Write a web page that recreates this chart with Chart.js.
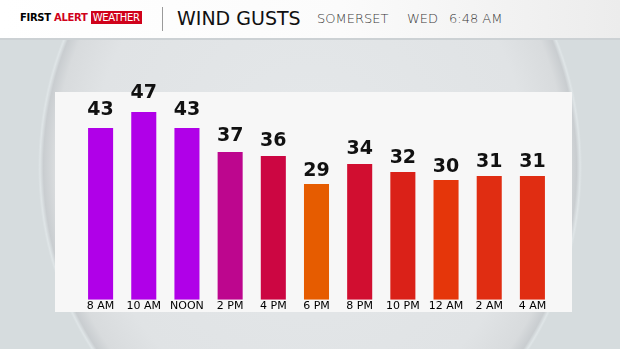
<!DOCTYPE html>
<html>
<head>
<meta charset="utf-8">
<script src="https://cdn.jsdelivr.net/npm/chart.js@4.4.1/dist/chart.umd.min.js"></script>
<style>
  html, body { margin: 0; padding: 0; }
  body {
    width: 620px; height: 349px; position: relative; overflow: hidden;
    background:
      radial-gradient(ellipse 272px 309px at 310px 167px,
        #e5e8ea 0%, #e0e3e5 80%, #d8dbdd 94%, #c9cdd0 98%, #dfe5e7 99.3%, #d6dcde 100%),
      #d6dcde;
    font-family: "DejaVu Sans", sans-serif;
  }
  #header {
    position: absolute; left: 0; top: 0; width: 620px; height: 38px;
    background: linear-gradient(to right, #ffffff 0%, #fbfbfb 55%, #ececec 100%);
    border-bottom: 2px solid #ccd1d4;
  }
  #header > span { position: absolute; white-space: nowrap; }
  .brand { left: 20px; top: 12px; font-size: 10px; font-weight: bold; letter-spacing: -0.3px; }
  .brand .red { color: #d0021b; }
  .brand .box { background: #d0021b; color: #fff; padding: 1px 2px; font-weight: normal; }
  .sep { left: 162px; top: 7px; width: 1px; height: 24px; background: #9a9a9a; }
  .title { left: 177px; top: 7px; font-size: 19px; color: #111; }
  .place { left: 317px; top: 11px; font-size: 13px; color: #3a3a3a; font-weight: 300; }
  .day { left: 407px; top: 11px; font-size: 13px; color: #3a3a3a; font-weight: 300; }
  .time { left: 449px; top: 11px; font-size: 13px; color: #3a3a3a; font-weight: 300; }
  #panel {
    position: absolute; left: 55px; top: 92px; width: 517px; height: 220px;
    background: #f7f7f7;
  }
  #chart { position: absolute; left: 0; top: 0; }
</style>
</head>
<body>
<div id="header">
  <span class="brand">FIRST <span class="red">ALERT</span> <span class="box">WEATHER</span></span>
  <span class="sep"></span>
  <span class="title">WIND GUSTS</span>
  <span class="place">SOMERSET</span>
  <span class="day">WED</span>
  <span class="time">6:48 AM</span>
</div>
<div id="panel"></div>
<canvas id="chart" width="620" height="349"></canvas>
<script>
// hours along the bottom
const hours = ['8 AM', '10 AM', 'NOON', '2 PM', '4 PM', '6 PM', '8 PM', '10 PM', '12 AM', '2 AM', '4 AM'];
// gust speeds (mph)
const gusts = [43, 47, 43, 37, 36, 29, 34, 32, 30, 31, 31];
// bar colours, one per hour
const barColors = ['#b000e8', '#b000e8', '#b000e8', '#bd068e', '#cc0642', '#e65c00',
                   '#d10e30', '#da2118', '#e5360a', '#e02d12', '#e02d12'];

// draws the number above each bar
const valueLabels = {
  id: 'valueLabels',
  afterDatasetsDraw(chart) {
    const ctx = chart.ctx;
    const meta = chart.getDatasetMeta(0);
    ctx.save();
    ctx.font = 'bold 19px "DejaVu Sans"';
    ctx.fillStyle = '#111111';
    ctx.textAlign = 'center';
    ctx.textBaseline = 'alphabetic';
    meta.data.forEach((bar, i) => {
      const v = gusts[i];
      const gap = 8 + 0.33 * (v - 29);
      ctx.fillText(String(v), bar.x, bar.y - gap);
    });
    ctx.restore();
  }
};

const ctx = document.getElementById('chart').getContext('2d');
new Chart(ctx, {
  type: 'bar',
  data: {
    labels: hours,
    datasets: [{
      data: gusts,
      backgroundColor: barColors,
      borderWidth: 0,
      barPercentage: 0.58,
      categoryPercentage: 1
    }]
  },
  plugins: [valueLabels],
  options: {
    responsive: false,
    animation: false,
    events: [],
    layout: { padding: { left: 79, right: 66, top: 100, bottom: 36 } },
    plugins: { legend: { display: false }, tooltip: { enabled: false } },
    scales: {
      x: {
        grid: { display: false, drawTicks: false },
        border: { display: false },
        ticks: {
          color: '#000000',
          padding: 0,
          autoSkip: false,
          maxRotation: 0,
          font: { family: '"DejaVu Sans"', size: 11 }
        }
      },
      y: {
        display: false,
        min: 0,
        max: 50
      }
    }
  }
});
</script>
</body>
</html>
